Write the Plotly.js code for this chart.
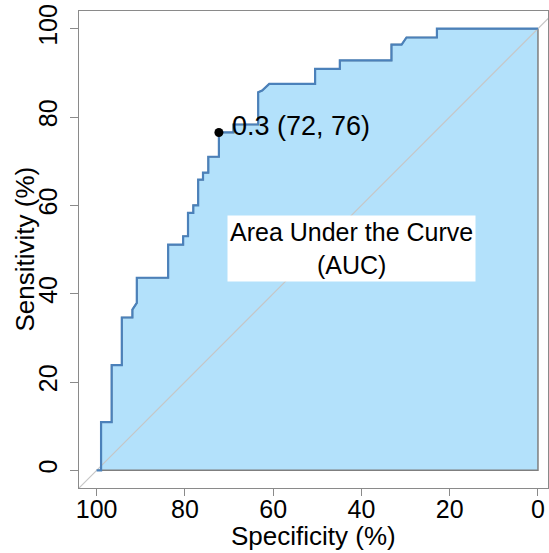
<!DOCTYPE html>
<html>
<head>
<meta charset="utf-8">
<script src="https://cdn.plot.ly/plotly-3.0.1.min.js"></script>
<style>html,body{margin:0;padding:0;background:#fff;}#chart{width:549px;height:553px;}</style>
</head>
<body>
<div id="chart"></div>
<script>
// ROC curve (specificity %, sensitivity %)
var specificity = [100, 99.0, 99.0, 96.6, 96.6, 94.3, 94.3, 91.9, 91.9, 90.9, 90.9, 83.8, 83.8, 80.4, 80.4, 79.3, 79.3, 78.1, 78.1, 77.0, 77.0, 75.9, 75.9, 74.7, 74.7, 72.3, 72.3, 69.0, 69.0, 63.4, 63.4, 62.5, 60.9, 50.5, 50.5, 44.9, 44.9, 33.2, 33.2, 30.9, 29.8, 22.9, 22.9, 0];
var sensitivity = [0, 0, 10.9, 10.9, 23.8, 23.8, 34.6, 34.6, 36.4, 37.9, 43.6, 43.6, 51.1, 51.1, 53.0, 53.0, 58.3, 58.3, 60.0, 60.0, 65.8, 65.8, 67.4, 67.4, 71.0, 71.0, 76.5, 76.5, 78.3, 78.3, 85.6, 86.0, 87.5, 87.5, 90.9, 90.9, 92.8, 92.8, 96.4, 96.4, 98.0, 98.0, 100, 100];
var bestSpec = [72.3];
var bestSens = [76.5];
var bestLabel = "0.3 (72, 76)";
var aucLabel = "Area Under the Curve<br>(AUC)";
var chanceX = [110, -10];
var chanceY = [-10, 110];
var tickVals = [0, 20, 40, 60, 80, 100];
var tickText = ["0", "20", "40", "60", "80", "100"];

var polyX = specificity.concat([0, 100]);
var polyY = sensitivity.concat([0, 0]);

var FONT = "Liberation Sans, Arial, Helvetica, sans-serif";

var traces = [
  {x: polyX, y: polyY, type: "scatter", mode: "lines", fill: "toself",
   fillcolor: "#b3e1fb", line: {color: "#7f7f7f", width: 1.5}, hoverinfo: "skip"},
  {x: chanceX, y: chanceY, type: "scatter", mode: "lines",
   line: {color: "#c6c6c6", width: 1.2}, hoverinfo: "skip"},
  {x: specificity, y: sensitivity, type: "scatter", mode: "lines",
   line: {color: "#4b81ba", width: 2.2}},
  {x: bestSpec, y: bestSens, type: "scatter", mode: "markers",
   marker: {color: "#000", size: 9}}
];

var axisCommon = {
  showline: true, mirror: true, linecolor: "#8a8a8a", linewidth: 1,
  ticks: "outside", tickcolor: "#8a8a8a", tickwidth: 1,
  showgrid: false, zeroline: false,
  tickvals: tickVals, ticktext: tickText,
  tickfont: {family: FONT, size: 25, color: "#000"}
};

var layout = {
  width: 549, height: 553,
  margin: {l: 79, r: 1, t: 11, b: 65},
  paper_bgcolor: "#fff", plot_bgcolor: "#fff",
  showlegend: false,
  xaxis: Object.assign({}, axisCommon, {range: [104, -2.27], ticklen: 7, ticklabelstandoff: -8}),
  yaxis: Object.assign({}, axisCommon, {range: [-4, 104], ticklen: 8, tickangle: -90, ticklabelstandoff: 3}),
  annotations: [
    {x: bestSpec[0], y: bestSens[0], xref: "x", yref: "y", text: bestLabel,
     showarrow: false, xanchor: "left", yanchor: "middle", xshift: 11, yshift: 6,
     font: {family: FONT, size: 27, color: "#000"}},
    {x: 42.2, y: 50.2, xref: "x", yref: "y", text: aucLabel, showarrow: false,
     xanchor: "center", yanchor: "middle", bgcolor: "#fff", borderpad: 2,
     font: {family: FONT, size: 25, color: "#000"}},
    {x: 0.5, y: -0.1, xref: "paper", yref: "paper", text: "Specificity (%)", showarrow: false,
     xanchor: "center", yanchor: "middle", font: {family: FONT, size: 26, color: "#000"}},
    {x: 0, y: 0.5, xref: "paper", yref: "paper", xshift: -55, text: "Sensitivity (%)", showarrow: false,
     textangle: -90, xanchor: "center", yanchor: "middle", font: {family: FONT, size: 26, color: "#000"}}
  ]
};

Plotly.newPlot("chart", traces, layout, {displayModeBar: false, staticPlot: true});
</script>
</body>
</html>
